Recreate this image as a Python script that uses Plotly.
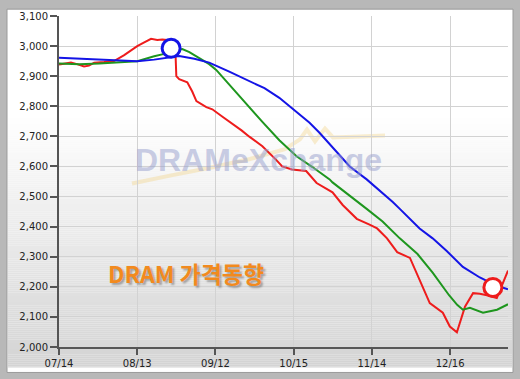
import plotly.graph_objects as go

W, H = 520, 379
ML, MR, MT, MB = 59, 12, 10, 31

# ---- data (x in day-units: tick every 30 units) ----
tick_vals = [0, 30, 60, 90, 120, 150]
tick_text = ["07/14", "08/13", "09/12", "10/15", "11/14", "12/16"]
y_ticks = [2000, 2100, 2200, 2300, 2400, 2500, 2600, 2700, 2800, 2900, 3000, 3100]

blue_x = [0, 7.7, 15.4, 23.1, 30.0, 36.5, 42.3, 46.1, 51.9, 57.6, 65.3, 73.0, 78.8, 84.5,
          88.4, 92.2, 96.1, 99.9, 103.8, 107.6, 111.5, 118.0, 123.0, 128.0, 130.7, 138.3,
          143.3, 148.7, 154.9, 161.4, 165.2, 169.1, 172.2]
blue_y = [2961, 2958, 2955, 2951, 2950, 2955, 2963, 2967, 2958, 2945, 2915, 2884, 2860, 2828,
          2800, 2775, 2745, 2712, 2675, 2636, 2600, 2557, 2520, 2482, 2459, 2394,
          2361, 2319, 2266, 2231, 2215, 2200, 2192]

green_x = [0, 7.7, 15.4, 21.1, 30.0, 36.5, 40.4, 43.0, 47.3, 50.0, 53.8, 57.6, 60.3, 65.3,
           69.2, 71.8, 78.0, 84.5, 91.1, 97.2, 103.8, 104.9, 111.5, 118.0, 124.1, 130.7,
           137.5, 143.3, 149.6, 152.7, 154.9, 157.6, 162.6, 168.0, 172.2]
green_y = [2942, 2940, 2942, 2945, 2950, 2966, 2974, 2982, 2990, 2980, 2961, 2940, 2921, 2872,
           2835, 2807, 2748, 2687, 2634, 2598, 2557, 2547, 2504, 2459, 2417, 2361,
           2309, 2247, 2172, 2140, 2124, 2130, 2114, 2124, 2142]

red_x = [0, 1.9, 4.6, 6.9, 9.6, 11.5, 13.5, 17.3, 21.1, 25.0, 30.0, 32.7, 35.3, 37.7, 39.6,
         41.5, 43.0, 44.6, 45.0, 46.1, 49.2, 51.1, 52.7, 56.5, 58.8, 62.7, 68.1, 70.0, 73.0,
         78.0, 83.3, 85.6, 89.4, 94.8, 98.8, 104.9, 108.8, 114.2, 119.1, 122.0, 125.8, 129.7,
         134.6, 138.3, 142.2, 147.2, 148.7, 149.9, 152.6, 155.7, 158.8, 161.4, 164.1, 167.9, 172.2]
red_y = [2939, 2942, 2945, 2940, 2932, 2935, 2945, 2947, 2950, 2970, 3000, 3012, 3024, 3020, 3022,
         3020, 3010, 2995, 2900, 2890, 2880, 2849, 2817, 2797, 2790, 2765, 2732, 2720, 2699,
         2667, 2622, 2600, 2590, 2585, 2545, 2514, 2472, 2426, 2407, 2394, 2361, 2315,
         2296, 2221, 2146, 2114, 2091, 2068, 2049, 2134, 2179, 2177, 2172, 2163, 2254]

# highlight circles
blue_mark_x, blue_mark_y = [43.0], [2993]
red_mark_x, red_mark_y = [166.4], [2198]

X_MAX = 172.2

def px(x):
    return (x - ML) / (W - ML - MR)

def py(y):
    return (H - MB - y) / (H - MT - MB)

fig = go.Figure()

fig.add_trace(go.Scatter(x=red_x, y=red_y, mode="lines",
                         line=dict(color="#ee1c1c", width=2), hoverinfo="skip"))
fig.add_trace(go.Scatter(x=green_x, y=green_y, mode="lines",
                         line=dict(color="#1e961e", width=2), hoverinfo="skip"))
fig.add_trace(go.Scatter(x=blue_x, y=blue_y, mode="lines",
                         line=dict(color="#1414e6", width=2), hoverinfo="skip"))
fig.add_trace(go.Scatter(x=blue_mark_x, y=blue_mark_y, mode="markers",
                         marker=dict(size=18, color="white",
                                     line=dict(color="#1414e6", width=3)),
                         hoverinfo="skip", cliponaxis=False))
fig.add_trace(go.Scatter(x=red_mark_x, y=red_mark_y, mode="markers",
                         marker=dict(size=18, color="white",
                                     line=dict(color="#ee1c1c", width=3)),
                         hoverinfo="skip", cliponaxis=False))

shapes = []
# panel
shapes.append(dict(type="rect", xref="paper", yref="paper", layer="below",
                   x0=px(7), x1=px(513), y0=py(374), y1=py(3),
                   fillcolor="white", line=dict(color="#9a9a9a", width=1)))
# gradient stripes
top, bot = 110, 369
step = 2
yy = top
while yy < bot:
    t = (yy - top) / (bot - top)
    g = int(round(255 - 44 * t))
    c = f"rgb({g},{g},{g})"
    shapes.append(dict(type="rect", xref="paper", yref="paper", layer="below",
                       x0=px(8), x1=px(512), y0=py(min(yy + step, bot)), y1=py(yy),
                       fillcolor=c, line=dict(width=0)))
    yy += step

# swoosh of watermark
pts = [(132, 181), (170, 173), (210, 165), (250, 156), (285, 146), (300, 136),
       (307, 126), (315, 138), (325, 125), (333, 134), (360, 133), (385, 132)]
path = "M " + " L ".join(f"{px(a):.4f},{py(b):.4f}" for a, b in pts)
shapes.append(dict(type="path", xref="paper", yref="paper", layer="below", path=path,
                   line=dict(color="rgba(240,205,120,0.35)", width=4)))

annotations = [
    dict(text="<b>DRAMeXchange</b>", xref="paper", yref="paper", x=px(258), y=py(157),
         showarrow=False, xanchor="center", yanchor="middle",
         font=dict(family="Liberation Sans, Arial", size=32, color="rgba(150,158,205,0.5)")),
    dict(text="<b>DRAM 가격동향</b>", xref="paper", yref="paper", x=px(186), y=py(272),
         showarrow=False, xanchor="center", yanchor="middle",
         font=dict(family="Noto Sans CJK KR", size=23, color="#f28a1e",
                   shadow="2px 2px 2px rgba(0,0,0,0.3)")),
]

fig.update_layout(
    width=W, height=H,
    margin=dict(l=ML, r=MR, t=MT, b=MB, pad=0),
    paper_bgcolor="#b8b8b8",
    plot_bgcolor="rgba(0,0,0,0)",
    showlegend=False,
    shapes=shapes,
    annotations=annotations,
    font=dict(family="DejaVu Sans, Verdana", size=10, color="#222"),
)
fig.update_xaxes(range=[0, X_MAX], tickvals=tick_vals, ticktext=tick_text,
                 showgrid=True, gridcolor="#d2d2d2", gridwidth=1,
                 showline=True, linecolor="#555", linewidth=2,
                 ticks="outside", ticklen=6, tickcolor="#555", tickwidth=2,
                 zeroline=False, fixedrange=True, tickfont=dict(size=10))
fig.update_yaxes(range=[2000, 3100], tickvals=y_ticks, tickformat=",",
                 showgrid=True, gridcolor="#d2d2d2", gridwidth=1,
                 showline=True, linecolor="#555", linewidth=2,
                 ticks="outside", ticklen=7, tickcolor="#555", tickwidth=2,
                 zeroline=False, fixedrange=True, tickfont=dict(size=10))

fig.write_html("out.html", config={"displayModeBar": False},
               post_script="document.body.style.margin='0px';document.body.style.overflow='hidden';")
